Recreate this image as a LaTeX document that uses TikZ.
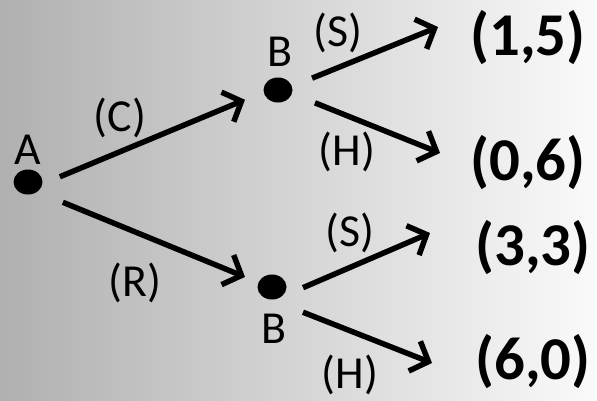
\documentclass[tikz,border=0pt]{standalone}
\usepackage{fontspec}
\setmainfont{Carlito}
\usetikzlibrary{arrows.meta,shapes.geometric}
\tikzset{
  dot/.style={ellipse,fill=black,inner sep=0pt,minimum width=29bp,minimum height=25bp},
  move/.style={font=\fontsize{46}{52}\selectfont},
  payoff/.style={font=\fontsize{61}{70}\selectfont\bfseries},
  arr/.style={line width=5.5bp,-{Straight Barb[length=15bp,width=32bp]}}
}
\begin{document}
\begin{tikzpicture}[x=1bp,y=-1bp]
\shade[left color=black!31, middle color=black!12, right color=black!2] (0,0) rectangle (597,400);
\useasboundingbox (0,0) rectangle (597,400);
% decision nodes
\node[dot] (A) at (28,182) {};
\node[dot] (B1) at (278,90) {};
\node[dot] (B2) at (272,287) {};
\node[move] (lA) at (28,150) {A};
\node[move] (lB1) at (280,52) {B};
\node[move] (lB2) at (274,329) {B};
% payoffs
\node[payoff] (p1) at (528,38) {(1,5)};
\node[payoff] (p2) at (528,163) {(0,6)};
\node[payoff] (p3) at (533,248) {(3,3)};
\node[payoff] (p4) at (533,362) {(6,0)};
\coordinate (t1) at (438,27);
\coordinate (t2) at (440,153);
\coordinate (t3) at (430,233);
\coordinate (t4) at (432,363);
% branches
\draw[arr,shorten <=34.5bp,shorten >=35.8bp] ([yshift=-8bp]A.center) -- ([yshift=4bp]B1.center);
\draw[arr,shorten <=37.7bp,shorten >=29.2bp] ([yshift=-6bp]A.center) -- ([yshift=-1bp]B2.center);
\draw[arr,shorten <=36.8bp] ([yshift=-2bp]B1.center) -- (t1);
\draw[arr,shorten <=39.8bp] ([yshift=2bp]B1.center) -- (t2);
\draw[arr,shorten <=33.8bp] ([yshift=-14bp]B2.center) -- (t3);
\draw[arr,shorten <=33.3bp] ([yshift=-13bp]B2.center) -- (t4);
% move labels
\node[move] (mC) at (120,118) {(C)};
\node[move] (mR) at (135,283) {(R)};
\node[move] (mS1) at (338,33) {(S)};
\node[move] (mH1) at (347,152) {(H)};
\node[move] (mS2) at (350,233) {(S)};
\node[move] (mH2) at (350,375) {(H)};
\end{tikzpicture}
\end{document}
